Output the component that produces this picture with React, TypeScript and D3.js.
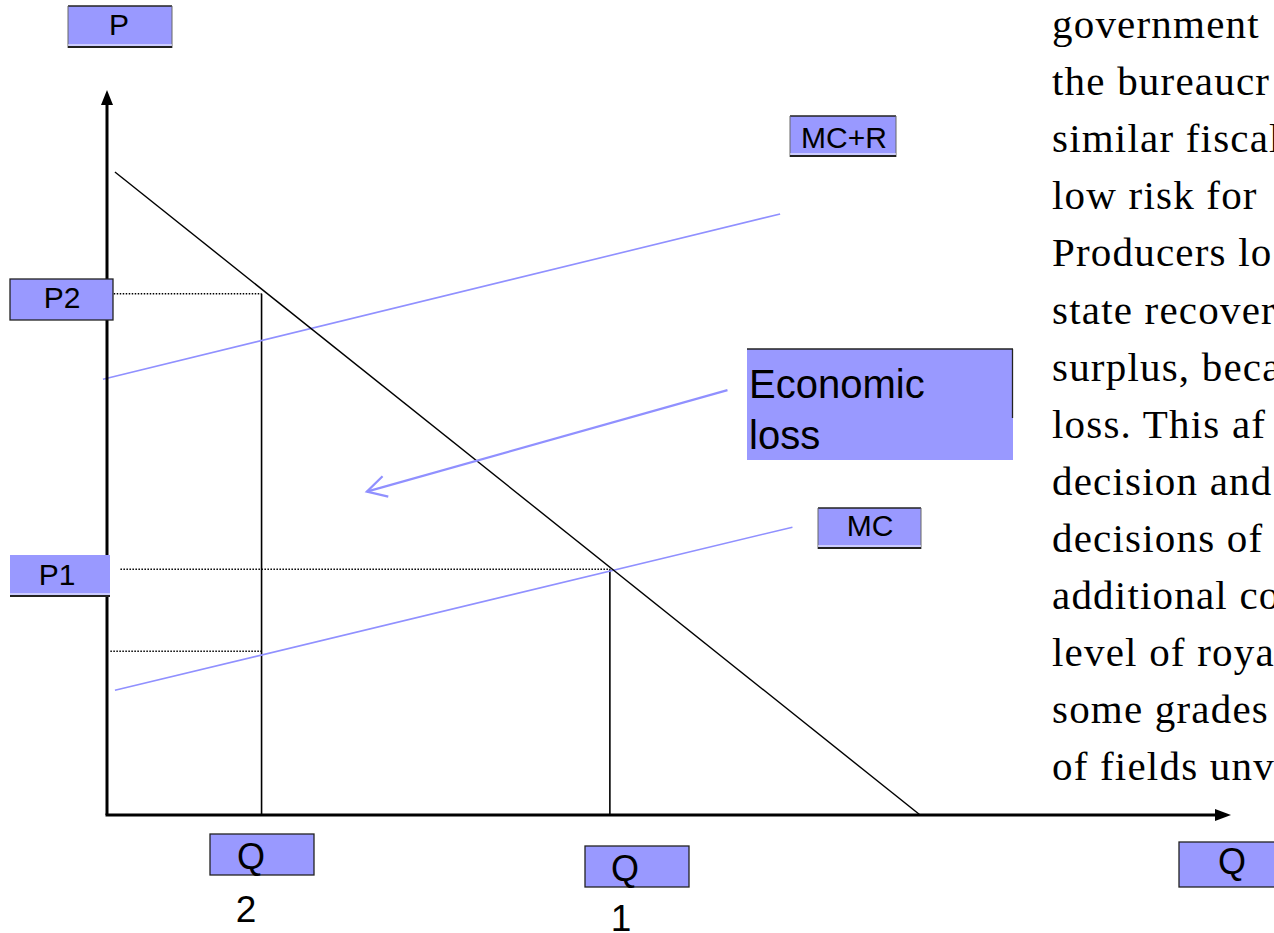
import React from "react";
import * as d3 from "d3";

// Axis domains (abstract quantity / price units)
const qDomain = [0, 100];
const pDomain = [0, 100];

// Curves: [Q, P] endpoints
const demand: [number, number][] = [[0.71, 88.7], [72.6, 0]];
const mcPlusR: [number, number][] = [[-0.36, 60.1], [60.1, 82.9]];
const mc: [number, number][] = [[0.71, 17.2], [61.2, 39.7]];

// Equilibrium values
const Q1 = 44.9;
const P1 = 33.9;
const Q2 = 13.8;
const P2 = 71.9;
const PLow = 22.6;

// Economic loss arrow [from, to]
const lossArrow: [number, number][] = [[55.4, 58.6], [23.2, 44.6]];

// Labels
const labelP = "P";
const labelQ = "Q";
const labelMCR = "MC+R";
const labelMC = "MC";
const labelP1 = "P1";
const labelP2 = "P2";
const lossLines = ["Economic", "loss"];

const sideText = [
  "government",
  "the bureaucr",
  "similar fiscal",
  "low risk for",
  "Producers lo",
  "state recover",
  "surplus, beca",
  "loss. This af",
  "decision and",
  "decisions of",
  "additional co",
  "level of roya",
  "some grades",
  "of fields unv",
];

const FILL = "#9999FF";
const BLUE = "#9090FF";
const SANS = "'Liberation Sans', Arial, sans-serif";
const SERIF = "'Liberation Serif', 'Times New Roman', serif";

function Box({ x, y, w, h, text, tx, ty, fs, border = "all" }: any) {
  return (
    <g>
      <rect x={x} y={y} width={w} height={h} fill={FILL} />
      {border === "all" && (
        <rect x={x} y={y} width={w} height={h} fill="none" stroke="#222" strokeWidth={1.3} />
      )}
      {border === "shadow" && (
        <g>
          <line x1={x} y1={y} x2={x + w} y2={y} stroke="#222" strokeWidth={1.3} />
          <line x1={x} y1={y} x2={x} y2={y + h} stroke="#666" strokeWidth={1} />
          <line x1={x + w} y1={y} x2={x + w} y2={y + h} stroke="#666" strokeWidth={1} />
          <line x1={x} y1={y + h - 3} x2={x + w} y2={y + h - 3} stroke="#fff" strokeWidth={1.2} />
          <line x1={x} y1={y + h - 1} x2={x + w} y2={y + h - 1} stroke="#222" strokeWidth={2} />
        </g>
      )}
      {border === "bottom" && (
        <g>
          <line x1={x} y1={y + h - 3} x2={x + w} y2={y + h - 3} stroke="#fff" strokeWidth={1.2} />
          <line x1={x} y1={y + h - 1} x2={x + w} y2={y + h - 1} stroke="#222" strokeWidth={2} />
        </g>
      )}
      <text x={tx} y={ty} fontSize={fs} fontFamily={SANS} textAnchor="middle" fill="#000">
        {text}
      </text>
    </g>
  );
}

export default function App() {
  const W = 1274;
  const H = 933;
  const x = d3.scaleLinear().domain(qDomain).range([107, 1227]);
  const y = d3.scaleLinear().domain(pDomain).range([815, 90]);
  const line = d3
    .line<[number, number]>()
    .x((d) => x(d[0]))
    .y((d) => y(d[1]));

  const ax0 = x(lossArrow[0][0]);
  const ay0 = y(lossArrow[0][1]);
  const ax1 = x(lossArrow[1][0]);
  const ay1 = y(lossArrow[1][1]);
  const ang = Math.atan2(ay0 - ay1, ax0 - ax1);
  const headLen = 22;
  const spread = 0.5;
  const h1 = [ax1 + headLen * Math.cos(ang + spread), ay1 + headLen * Math.sin(ang + spread)];
  const h2 = [ax1 + headLen * Math.cos(ang - spread), ay1 + headLen * Math.sin(ang - spread)];

  const x0 = x(0);
  const y0 = y(0);

  return (
    <svg
      width={W}
      height={H}
      style={{ position: "absolute", left: 0, top: 0, background: "#fff" }}
    >
      <rect width={W} height={H} fill="#fff" />

      {/* side text */}
      {sideText.map((t, i) => (
        <text
          key={i}
          x={1052}
          y={38 + 57.1 * i}
          fontSize={41}
          letterSpacing={1.2}
          fontFamily={SERIF}
          fill="#000"
        >
          {t}
        </text>
      ))}

      {/* dotted guides */}
      <line x1={x(0.6)} y1={y(P2)} x2={x(Q2)} y2={y(P2)} stroke="#000" strokeWidth={1.5} strokeDasharray="1.5,1.5" />
      <line x1={x(1.2)} y1={y(P1)} x2={x(Q1)} y2={y(P1)} stroke="#000" strokeWidth={1.5} strokeDasharray="1.5,1.5" />
      <line x1={x(0.3)} y1={y(PLow)} x2={x(Q2)} y2={y(PLow)} stroke="#000" strokeWidth={1.5} strokeDasharray="1.5,1.5" />

      {/* vertical drops */}
      <line x1={x(Q2)} y1={y(P2)} x2={x(Q2)} y2={y0} stroke="#000" strokeWidth={1.6} />
      <line x1={x(Q1)} y1={y(P1)} x2={x(Q1)} y2={y0} stroke="#000" strokeWidth={1.6} />

      {/* curves */}
      <path d={line(mcPlusR) || ""} stroke={BLUE} strokeWidth={1.6} fill="none" />
      <path d={line(mc) || ""} stroke={BLUE} strokeWidth={1.6} fill="none" />
      <path d={line(demand) || ""} stroke="#000" strokeWidth={1.4} fill="none" />

      {/* economic loss arrow */}
      <line x1={ax0} y1={ay0} x2={ax1} y2={ay1} stroke={BLUE} strokeWidth={2.2} />
      <polyline
        points={`${h1[0]},${h1[1]} ${ax1},${ay1} ${h2[0]},${h2[1]}`}
        stroke={BLUE}
        strokeWidth={2.2}
        fill="none"
      />

      {/* axes */}
      <line x1={x0} y1={y0} x2={x0} y2={y(100) + 12} stroke="#000" strokeWidth={3} />
      <polygon points={`${x0},${y(100)} ${x0 - 6},${y(100) + 15} ${x0 + 6},${y(100) + 15}`} fill="#000" />
      <line x1={x0 - 1.5} y1={y0} x2={x(100) - 10} y2={y0} stroke="#000" strokeWidth={3} />
      <polygon points={`${x(100) + 4},${y0} ${x(100) - 12},${y0 - 6} ${x(100) - 12},${y0 + 6}`} fill="#000" />

      {/* labels */}
      <Box x={68} y={6} w={104} h={42} text={labelP} tx={119} ty={35} fs={30} border="shadow" />
      <Box x={790} y={116} w={106} h={41} text={labelMCR} tx={844} ty={148} fs={30} border="shadow" />
      <Box x={818} y={508} w={103} h={41} text={labelMC} tx={870} ty={536} fs={30} border="shadow" />
      <Box x={10} y={279} w={103} h={41} text={labelP2} tx={62} ty={308} fs={30} border="all" />
      <Box x={10} y={555} w={100} h={42} text={labelP1} tx={57} ty={585} fs={30} border="bottom" />

      <Box x={210} y={834} w={104} h={41} text={labelQ} tx={251} ty={869} fs={36} border="all" />
      <text x={246} y={922} fontSize={37} fontFamily={SANS} textAnchor="middle">2</text>
      <Box x={585} y={846} w={104} h={41} text={labelQ} tx={625} ty={881} fs={36} border="all" />
      <text x={621} y={931} fontSize={37} fontFamily={SANS} textAnchor="middle">1</text>
      <Box x={1179} y={842} w={110} h={45} text={labelQ} tx={1232} ty={874} fs={36} border="all" />

      {/* Economic loss box */}
      <g>
        <rect x={747} y={349} width={266} height={111} fill={FILL} />
        <line x1={747} y1={349} x2={1013} y2={349} stroke="#222" strokeWidth={1.3} />
        <line x1={1012.5} y1={349} x2={1012.5} y2={418} stroke="#222" strokeWidth={1.3} />
        {lossLines.map((t, i) => (
          <text key={i} x={749} y={398 + 51 * i} fontSize={40} fontFamily={SANS} fill="#000">
            {t}
          </text>
        ))}
      </g>
    </svg>
  );
}
